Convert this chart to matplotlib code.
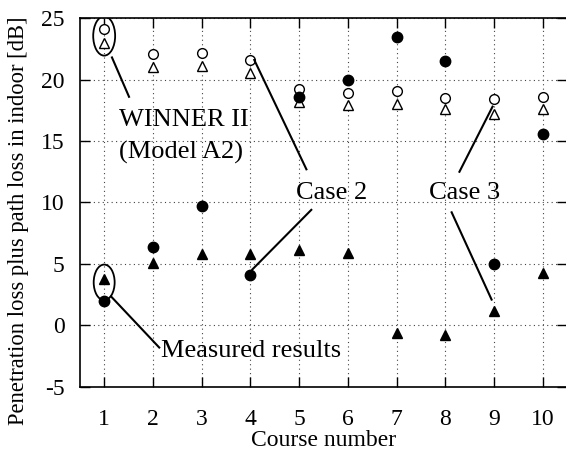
import matplotlib.pyplot as plt
from matplotlib.patches import Ellipse

course = [1, 2, 3, 4, 5, 6, 7, 8, 9, 10]

# WINNER II (Model A2) predictions
winner_case2 = [24.1, 22.1, 22.2, 21.6, 19.2, 18.9, 19.1, 18.5, 18.4, 18.6]
winner_case3 = [23.0, 21.0, 21.1, 20.5, 18.2, 17.9, 18.0, 17.6, 17.2, 17.6]

# measured results
meas_case2 = [2.0, 6.4, 9.7, 4.1, 18.6, 20.0, 23.5, 21.5, 5.0, 15.6]
meas_case3 = [3.8, 5.1, 5.8, 5.8, 6.1, 5.9, -0.6, -0.8, 1.2, 4.3]

yticks = [-5, 0, 5, 10, 15, 20, 25]

plt.rcParams['font.family'] = ['Liberation Serif', 'DejaVu Serif']

fig = plt.figure(figsize=(5.66, 4.53), dpi=100)
ax = fig.add_axes([0.141, 0.146, 0.861, 0.814])

ax.plot(course, winner_case3, '^', ms=6.5, mfc='white', mec='black', mew=1.0, ls='none')
ax.plot(course, winner_case2, 'o', ms=7, mfc='white', mec='black', mew=1.0, ls='none')
ax.plot(course, meas_case3, '^', ms=6.5, color='black', ls='none')
ax.plot(course, meas_case2, 'o', ms=7.5, color='black', ls='none')

ax.set_xlim(0.5, 10.5)
ax.set_ylim(-5, 25)
ax.set_xticks(course)
ax.set_yticks(yticks)
ax.set_yticklabels([str(v) for v in yticks])
ax.tick_params(direction='in', length=7, width=1, top=True, right=True, labelsize=17)
ax.tick_params(axis='x', pad=16)
ax.tick_params(axis='y', pad=11)
ax.grid(True, ls=(0, (1, 3)), lw=0.8, color='#444444')
for s in ax.spines.values():
    s.set_linewidth(1.2)

ax.set_xlabel('Course number', fontsize=17, labelpad=0)
ax.set_ylabel('Penetration loss plus path loss in indoor [dB]', fontsize=16.3)
ax.yaxis.set_label_coords(-0.104, 0.45)

ax.add_patch(Ellipse((1, 23.55), 0.45, 3.2, fill=False, lw=1.3, color='black', zorder=5))
ax.add_patch(Ellipse((1, 3.5), 0.43, 2.9, fill=False, lw=1.3, color='black', zorder=5))

lw = 1.5
ax.plot([1.16, 1.51], [21.8, 18.6], color='black', lw=lw)
ax.plot([4.08, 5.15], [21.6, 12.7], color='black', lw=lw)
ax.plot([5.25, 4.04], [9.4, 4.55], color='black', lw=lw)
ax.plot([8.29, 8.97], [12.5, 17.8], color='black', lw=lw)
ax.plot([8.13, 8.95], [9.2, 2.1], color='black', lw=lw)
ax.plot([1.14, 2.13], [2.36, -1.8], color='black', lw=lw)

fs = 19
ax.text(1.31, 16.7, 'WINNER II', fontsize=fs, va='center', ha='left')
ax.text(1.31, 14.1, '(Model A2)', fontsize=fs, va='center', ha='left')
ax.text(4.94, 10.8, 'Case 2', fontsize=fs, va='center', ha='left')
ax.text(7.67, 10.8, 'Case 3', fontsize=fs, va='center', ha='left')
ax.text(2.16, -2.1, 'Measured results', fontsize=fs, va='center', ha='left')

fig.savefig('out.png', dpi=100)
